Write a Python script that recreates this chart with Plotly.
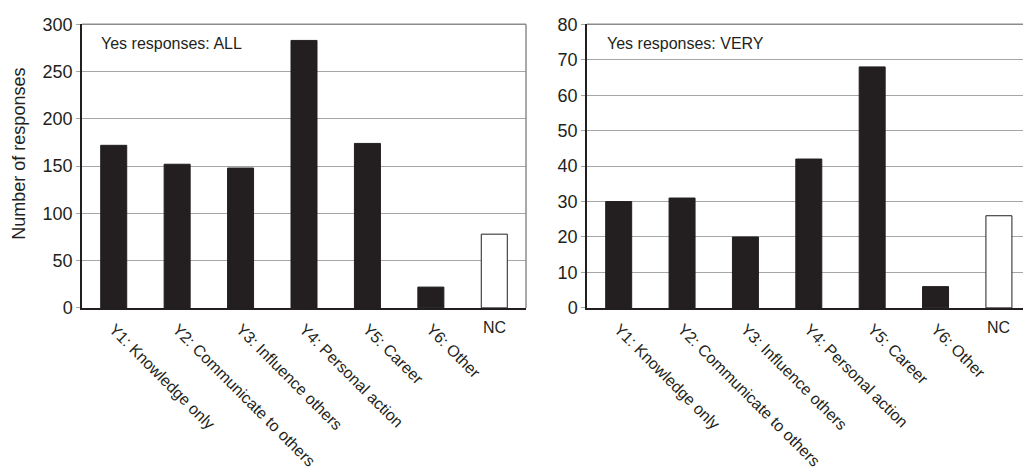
import plotly.graph_objects as go

# Categories and response counts for the two panels
categories = ["Y1: Knowledge only", "Y2: Communicate to others", "Y3: Influence others",
              "Y4: Personal action", "Y5: Career", "Y6: Other", "NC"]
all_counts = [172, 152, 148, 283, 174, 22, 78]
very_counts = [30, 31, 20, 42, 68, 6, 26]

all_ticks = [0, 50, 100, 150, 200, 250, 300]
very_ticks = [0, 10, 20, 30, 40, 50, 60, 70, 80]

W, H = 1023, 474
INK = "#231f20"
GRID = "#a6a6a6"
FONT = "Liberation Sans, Arial, Helvetica, sans-serif"


def px_x(p):
    return p / W


def px_y(p):
    return 1 - p / H


fills = [INK if c != "NC" else "white" for c in categories]
tick_text = [c if c != "NC" else "" for c in categories]

fig = go.Figure()
fig.add_trace(go.Bar(x=categories, y=all_counts, marker=dict(color=fills, line=dict(color=INK, width=1)),
                     xaxis="x", yaxis="y", showlegend=False))
fig.add_trace(go.Bar(x=categories, y=very_counts, marker=dict(color=fills, line=dict(color=INK, width=1)),
                     xaxis="x2", yaxis="y2", showlegend=False))

ydom = [px_y(311), px_y(15)]
common_x = dict(type="category", tickmode="array", tickvals=categories, ticktext=tick_text,
                tickangle=45, showline=True, linecolor=INK, linewidth=1.5, ticks="outside",
                ticklen=4, tickcolor="rgba(0,0,0,0)",
                showgrid=False, zeroline=False, tickfont=dict(size=16, color=INK, family=FONT))
common_y = dict(showline=True, linecolor=INK, linewidth=1.5, ticks="outside", ticklen=4,
                tickcolor=GRID, showgrid=True, gridcolor=GRID, gridwidth=1, zeroline=False,
                tickfont=dict(size=18, color=INK, family=FONT), domain=ydom)

fig.update_layout(
    width=W, height=H,
    margin=dict(l=0, r=0, t=0, b=0),
    paper_bgcolor="white", plot_bgcolor="white",
    bargap=0.59,
    font=dict(family=FONT, color=INK),
    xaxis=dict(common_x, domain=[px_x(82), px_x(526)], range=[-0.5, 6.5], anchor="y"),
    yaxis=dict(common_y, range=[0, 300], tickvals=all_ticks, anchor="x"),
    xaxis2=dict(common_x, domain=[px_x(587), 1], range=[-0.5, 6.38], anchor="y2"),
    yaxis2=dict(common_y, range=[0, 80], tickvals=very_ticks, anchor="x2"),
)

# Frame lines: top and right of the left panel, top of the right panel
fig.add_shape(type="line", xref="x domain", yref="y domain", x0=0, x1=1, y0=1, y1=1,
              line=dict(color="#8c8c8c", width=1.5))
fig.add_shape(type="line", xref="x domain", yref="y domain", x0=1, x1=1, y0=0, y1=1,
              line=dict(color="#8c8c8c", width=1.5))
fig.add_shape(type="line", xref="x2 domain", yref="y2 domain", x0=0, x1=1, y0=1, y1=1,
              line=dict(color="#8c8c8c", width=1.5))

# Panel labels
fig.add_annotation(text="Yes responses: ALL", xref="paper", yref="paper", x=px_x(99), y=px_y(35),
                   xanchor="left", yanchor="middle", showarrow=False,
                   font=dict(size=16, color=INK, family=FONT))
fig.add_annotation(text="Yes responses: VERY", xref="paper", yref="paper", x=px_x(605), y=px_y(35),
                   xanchor="left", yanchor="middle", showarrow=False,
                   font=dict(size=16, color=INK, family=FONT))

# Y-axis title
fig.add_annotation(text="Number of responses", xref="paper", yref="paper", x=px_x(19), y=px_y(150),
                   xanchor="center", yanchor="middle", textangle=-90, showarrow=False,
                   font=dict(size=18, color=INK, family=FONT))

# Horizontal "NC" label under the open bar of each panel
for xr in ("x", "x2"):
    fig.add_annotation(text="NC", xref=xr, yref="paper", x="NC", y=px_y(331),
                       xanchor="center", yanchor="middle", showarrow=False,
                       font=dict(size=16, color=INK, family=FONT))

fig.write_html("out.html")
